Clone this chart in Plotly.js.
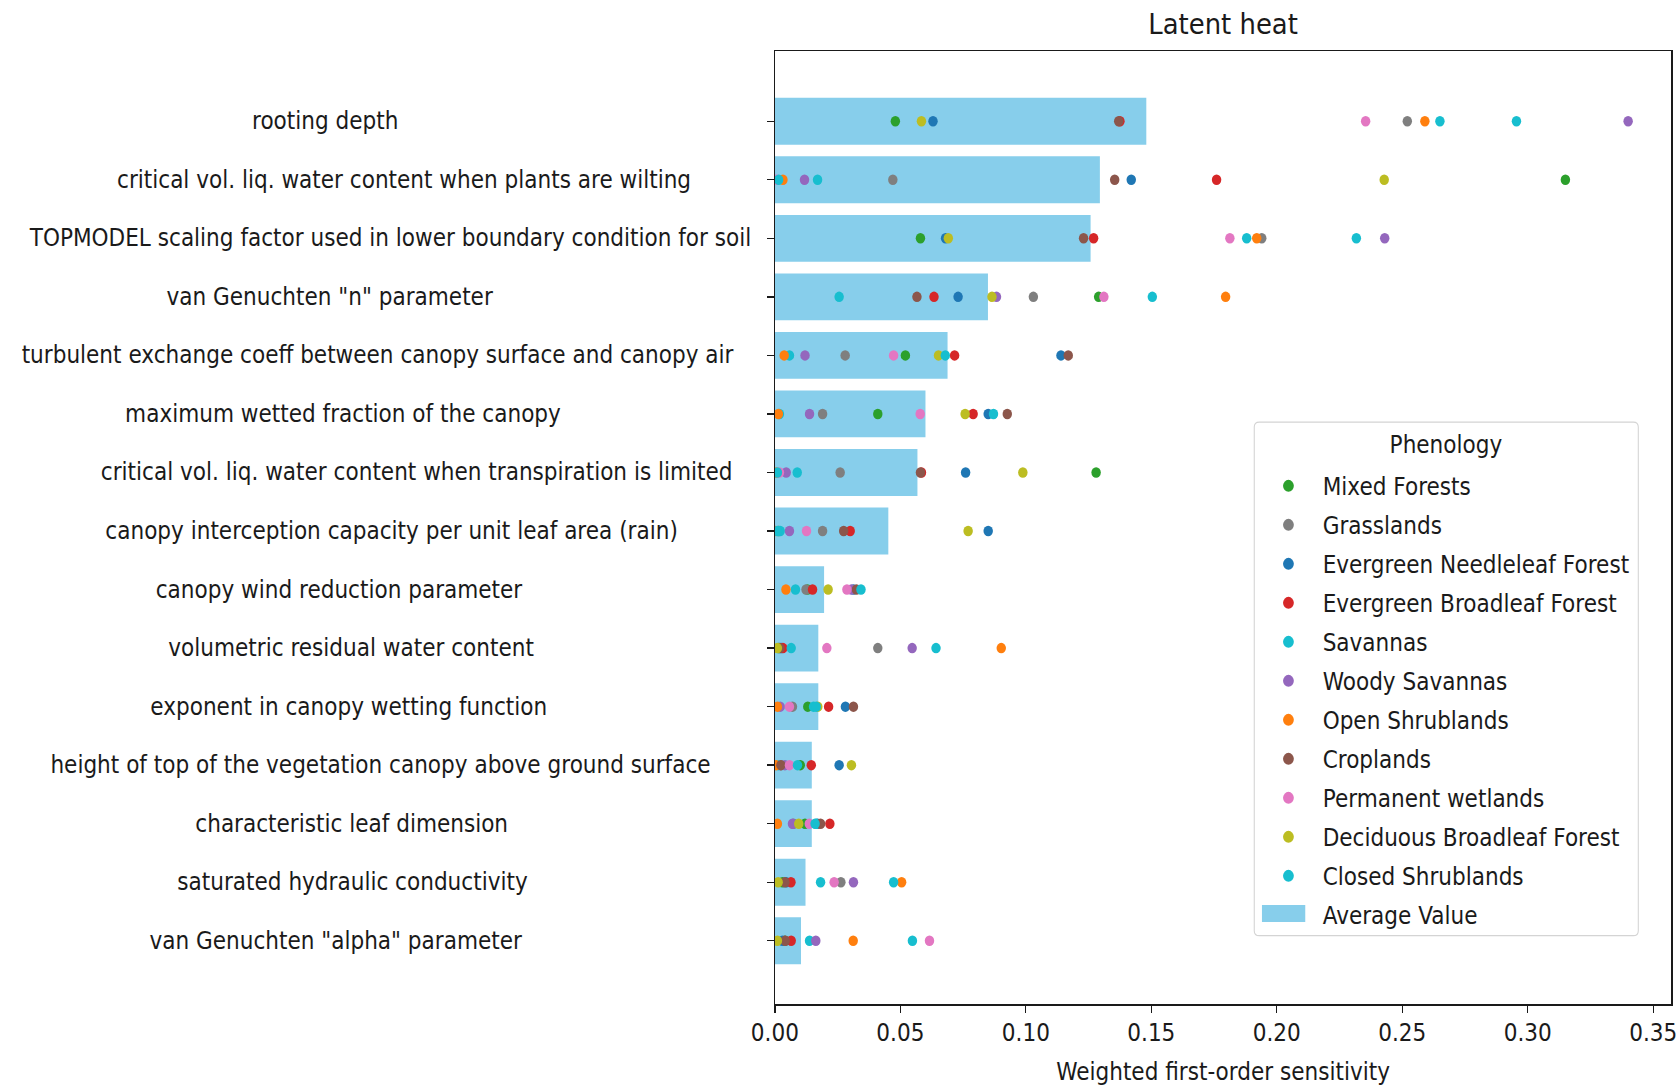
<!DOCTYPE html>
<html>
<head>
<meta charset="utf-8">
<script src="https://cdn.plot.ly/plotly-3.0.1.min.js"></script>
<style>
  html, body { margin: 0; padding: 0; background: #ffffff; overflow: hidden; }
  #wrap { width: 1680px; height: 1086px; overflow: hidden; }
  #chart { transform-origin: 0 0; }
</style>
</head>
<body>
<div id="wrap"><div id="chart"></div></div>
<script>
// Model parameters, top to bottom
const parameters = [
  "rooting depth",
  "critical vol. liq. water content when plants are wilting",
  "TOPMODEL scaling factor used in lower boundary condition for soil",
  "van Genuchten \"n\" parameter",
  "turbulent exchange coeff between canopy surface and canopy air",
  "maximum wetted fraction of the canopy",
  "critical vol. liq. water content when transpiration is limited",
  "canopy interception capacity per unit leaf area (rain)",
  "canopy wind reduction parameter",
  "volumetric residual water content",
  "exponent in canopy wetting function",
  "height of top of the vegetation canopy above ground surface",
  "characteristic leaf dimension",
  "saturated hydraulic conductivity",
  "van Genuchten \"alpha\" parameter"
];

// Weighted average sensitivity per parameter
const averageValue = [0.148, 0.1295, 0.1258, 0.0849, 0.0688, 0.0600, 0.0568, 0.0452, 0.0196, 0.0173, 0.0173, 0.0147, 0.0147, 0.0122, 0.0104];

// Sensitivity per land-cover class (same parameter order)
const mixedForests        = [0.048, 0.315, 0.058, 0.129, 0.052, 0.041, 0.128, 0.0015, 0.013, 0.0015, 0.0131, 0.0101, 0.012, 0.003, 0.004];
const grasslands          = [0.252, 0.047, 0.194, 0.103, 0.028, 0.019, 0.026, 0.019, 0.0124, 0.041, 0.007, 0.0024, 0.0074, 0.0263, 0.004];
const evergreenNeedleleaf = [0.063, 0.142, 0.068, 0.073, 0.114, 0.085, 0.076, 0.085, 0.0313, 0.0025, 0.0281, 0.0256, 0.017, 0.0045, 0.003];
const evergreenBroadleaf  = [0.1375, 0.176, 0.127, 0.0634, 0.0716, 0.079, 0.0584, 0.030, 0.015, 0.0032, 0.0214, 0.0145, 0.0219, 0.0064, 0.0065];
const savannas            = [0.265, 0.017, 0.188, 0.0256, 0.0058, 0.0018, 0.0089, 0.0021, 0.0082, 0.0065, 0.0154, 0.0014, 0.0165, 0.0182, 0.0138];
const woodySavannas       = [0.340, 0.0118, 0.243, 0.0883, 0.012, 0.0138, 0.0045, 0.0058, 0.0305, 0.0547, 0.0021, 0.004, 0.007, 0.0313, 0.0163];
const openShrublands      = [0.259, 0.0032, 0.192, 0.1796, 0.0037, 0.0014, 0.0005, 0.0001, 0.0044, 0.0902, 0.0010, 0.0005, 0.0010, 0.0505, 0.0312];
const croplands           = [0.137, 0.1354, 0.123, 0.0566, 0.1169, 0.0926, 0.058, 0.0274, 0.0325, 0.002, 0.0313, 0.0024, 0.0182, 0.004, 0.0041];
const permanentWetlands   = [0.2354, 0.0008, 0.1813, 0.1311, 0.0473, 0.0579, 0.0018, 0.0126, 0.0287, 0.0207, 0.0058, 0.0058, 0.0137, 0.0236, 0.0616];
const deciduousBroadleaf  = [0.0584, 0.2428, 0.0691, 0.0865, 0.0652, 0.0758, 0.0988, 0.077, 0.0212, 0.0010, 0.0171, 0.0305, 0.0095, 0.0013, 0.0010];
const closedShrublands    = [0.2955, 0.0015, 0.2317, 0.1504, 0.0679, 0.0871, 0.001, 0.001, 0.0343, 0.0642, 0.0165, 0.009, 0.016, 0.0473, 0.0548];

const classNames = ["Mixed Forests", "Grasslands", "Evergreen Needleleaf Forest", "Evergreen Broadleaf Forest",
  "Savannas", "Woody Savannas", "Open Shrublands", "Croplands", "Permanent wetlands",
  "Deciduous Broadleaf Forest", "Closed Shrublands"];
const classValues = [mixedForests, grasslands, evergreenNeedleleaf, evergreenBroadleaf, savannas,
  woodySavannas, openShrublands, croplands, permanentWetlands, deciduousBroadleaf, closedShrublands];
const classColors = ["#2ca02c", "#7f7f7f", "#1f77b4", "#d62728", "#17becf", "#9467bd",
  "#ff7f0e", "#8c564b", "#e377c2", "#bcbd22", "#17becf"];
const barColor = "#87ceeb";

// Page geometry: the figure is drawn wide and squeezed horizontally
const SQUEEZE = 0.9;
const PAGE_W = 1680, PAGE_H = 1086;
const FIG_W = PAGE_W / SQUEEZE;
const M = { l: 774.7 / SQUEEZE, r: (PAGE_W - 1671) / SQUEEZE, t: 51.4, b: 82 };
const PLOT_W = FIG_W - M.l - M.r;
const PLOT_H = PAGE_H - M.t - M.b;
const px2paperX = px => (px / SQUEEZE - M.l) / PLOT_W;
const px2paperY = py => (PAGE_H - M.b - py) / PLOT_H;

// Right edge (page px) of each parameter label
const labelRightPx = [400, 693, 753, 495, 735, 562, 734, 679, 524, 535, 549, 713, 510, 529, 524];

// Legend frame and bar swatch (page px)
const LEG = { x0: 1254, y0: 422.3, x1: 1638, y1: 935.7, r: 5 };
const SWATCH = { x0: 1261.7, y0: 905, x1: 1305, y1: 922 };

const FONT = "DejaVu Sans, Verdana, sans-serif";
const ink = "#1a1a1a";

const traces = classNames.map((name, i) => ({
  type: "scatter",
  mode: "markers",
  name: name,
  legendgroup: name,
  x: classValues[i],
  y: parameters,
  marker: { color: classColors[i], size: 10.5, line: { width: 0 } },
  hoverinfo: "x+name"
}));

traces.push({
  type: "bar",
  orientation: "h",
  name: "Average Value",
  showlegend: false,
  x: averageValue,
  y: parameters,
  marker: { color: barColor, line: { width: 0 } },
  hoverinfo: "x"
});

// Legend entry for the bars (its swatch is drawn as a shape)
traces.push({
  type: "scatter",
  mode: "lines",
  name: "Average Value",
  legendgroup: "Average Value",
  x: [null], y: [null],
  line: { color: "rgba(0,0,0,0)", width: 1 },
  hoverinfo: "skip"
});

const annotations = parameters.map((p, i) => ({
  xref: "paper", yref: "y",
  x: px2paperX(labelRightPx[i]),
  y: p,
  xanchor: "right", yanchor: "middle",
  text: p,
  showarrow: false,
  font: { family: FONT, size: 24, color: ink }
}));

annotations.push({
  xref: "paper", yref: "paper",
  x: px2paperX((LEG.x0 + LEG.x1) / 2),
  y: px2paperY(445),
  xanchor: "center", yanchor: "middle",
  text: "Phenology",
  showarrow: false,
  font: { family: FONT, size: 24, color: ink }
});

// Rounded legend frame in paper coordinates
function roundedRect(b) {
  const rx = b.r / SQUEEZE / PLOT_W, ry = b.r / PLOT_H;
  const L = px2paperX(b.x0), R = px2paperX(b.x1), T = px2paperY(b.y0), B = px2paperY(b.y1);
  return `M${L + rx},${T} L${R - rx},${T} Q${R},${T} ${R},${T - ry} L${R},${B + ry} Q${R},${B} ${R - rx},${B}` +
         ` L${L + rx},${B} Q${L},${B} ${L},${B + ry} L${L},${T - ry} Q${L},${T} ${L + rx},${T} Z`;
}

const layout = {
  width: FIG_W,
  height: PAGE_H,
  margin: M,
  paper_bgcolor: "#ffffff",
  plot_bgcolor: "#ffffff",
  font: { family: FONT, size: 24, color: ink },
  title: {
    text: "Latent heat",
    font: { family: FONT, size: 28.8, color: ink },
    xref: "paper", x: 0.5, xanchor: "center",
    yref: "container", y: 1 - 24 / PAGE_H, yanchor: "middle"
  },
  bargap: 0.2,
  showlegend: true,
  legend: {
    x: px2paperX(LEG.x0),
    y: px2paperY(464),
    xanchor: "left", yanchor: "top",
    bgcolor: "rgba(0,0,0,0)",
    borderwidth: 0,
    font: { family: FONT, size: 24, color: ink },
    traceorder: "grouped",
    tracegroupgap: 4.8,
    itemwidth: 66,
    itemsizing: "constant"
  },
  shapes: [{
    type: "path", xref: "paper", yref: "paper", layer: "below",
    path: roundedRect(LEG),
    fillcolor: "rgba(255,255,255,0.8)",
    line: { color: "#d4d4d4", width: 1.2 }
  }, {
    type: "rect", xref: "paper", yref: "paper", layer: "below",
    x0: px2paperX(SWATCH.x0), x1: px2paperX(SWATCH.x1),
    y0: px2paperY(SWATCH.y1), y1: px2paperY(SWATCH.y0),
    fillcolor: barColor,
    line: { width: 0 }
  }],
  xaxis: {
    range: [0, 0.3572],
    tick0: 0, dtick: 0.05,
    tickformat: ".2f",
    ticks: "outside", ticklen: 7, tickwidth: 1.4, tickcolor: ink,
    showline: true, linecolor: ink, linewidth: 1.5, mirror: true,
    showgrid: false, zeroline: false,
    tickfont: { family: FONT, size: 24, color: ink },
    title: { text: "Weighted first-order sensitivity", font: { family: FONT, size: 24, color: ink }, standoff: 17 }
  },
  yaxis: {
    type: "category",
    categoryorder: "array",
    categoryarray: parameters,
    range: [parameters.length - 1 + 1.08, -1.2],
    ticks: "outside", ticklen: 7, tickwidth: 1.4, tickcolor: ink,
    showticklabels: false,
    showline: true, linecolor: ink, linewidth: 1.5, mirror: true,
    showgrid: false, zeroline: false
  },
  annotations: annotations
};

document.getElementById("chart").style.transform = "scaleX(" + SQUEEZE + ")";
Plotly.newPlot("chart", traces, layout, { displayModeBar: false, staticPlot: true });
</script>
</body>
</html>
